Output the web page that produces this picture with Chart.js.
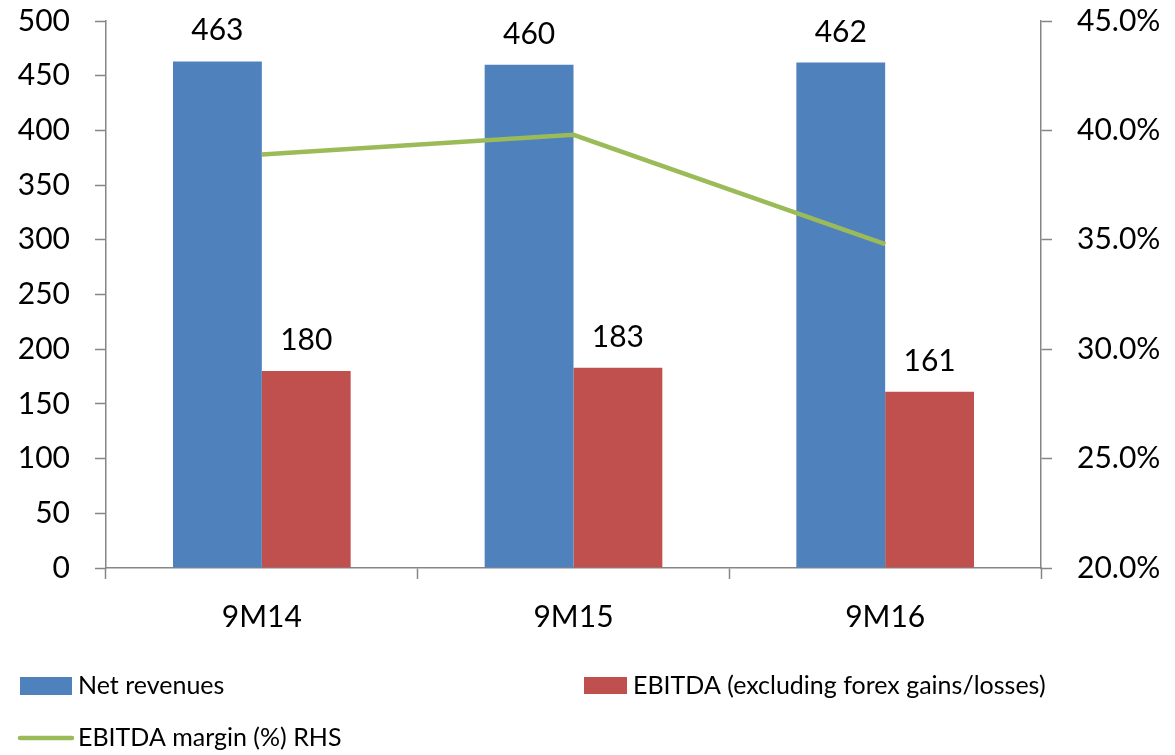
<!DOCTYPE html>
<html>
<head>
<meta charset="utf-8">
<script src="https://cdn.jsdelivr.net/npm/chart.js@4.4.1/dist/chart.umd.min.js"></script>
<style>
  html, body { margin: 0; padding: 0; background: #ffffff; }
  #wrap { width: 1175px; height: 755px; }
</style>
</head>
<body>
<div id="wrap"><canvas id="c" width="1175" height="755"></canvas></div>
<script>
// Values
const categories = ['9M14', '9M15', '9M16'];
const netRevenues = [463, 460, 462];
const ebitda = [180, 183, 161];
const ebitdaMargin = [38.9, 39.8, 34.8];
const seriesNames = ['Net revenues', 'EBITDA (excluding forex gains/losses)', 'EBITDA margin (%) RHS'];

const FONT = 'Lato, "Open Sans", sans-serif';
const AXIS_GRAY = '#868686';
const BLUE = '#4F81BD';
const RED = '#C0504D';
const GREEN = '#9BBB59';

// Value labels above each bar
const barLabels = {
  id: 'barLabels',
  afterDatasetsDraw(chart) {
    const ctx = chart.ctx;
    ctx.save();
    ctx.font = '30px ' + FONT;
    ctx.fillStyle = '#000';
    ctx.textAlign = 'center';
    ctx.textBaseline = 'alphabetic';
    chart.data.datasets.forEach((ds, i) => {
      if (ds.type !== 'bar') return;
      chart.getDatasetMeta(i).data.forEach((el, j) => {
        ctx.fillText(String(ds.data[j]), el.x, el.y - 21);
      });
    });
    ctx.restore();
  }
};

// Legend laid out in two rows beneath the axis
const customLegend = {
  id: 'customLegend',
  afterDraw(chart) {
    const ctx = chart.ctx;
    const ds = chart.data.datasets;
    const byLabel = l => ds.find(d => d.label === l);
    ctx.save();
    ctx.font = '25px ' + FONT;
    ctx.fillStyle = '#000';
    ctx.textBaseline = 'middle';
    ctx.textAlign = 'left';

    const a = byLabel(seriesNames[0]);
    ctx.fillStyle = a.backgroundColor;
    ctx.fillRect(20, 677, 52, 18);
    ctx.fillStyle = '#000';
    ctx.fillText(a.label, 78, 686);

    const b = byLabel(seriesNames[1]);
    ctx.fillStyle = b.backgroundColor;
    ctx.fillRect(584, 677, 43, 17);
    ctx.fillStyle = '#000';
    ctx.fillText(b.label, 633, 686);

    const c = byLabel(seriesNames[2]);
    ctx.strokeStyle = c.borderColor;
    ctx.lineWidth = 4.5;
    ctx.lineCap = 'round';
    ctx.beginPath();
    ctx.moveTo(20, 738);
    ctx.lineTo(72, 738);
    ctx.stroke();
    ctx.fillStyle = '#000';
    ctx.fillText(c.label, 78, 738);
    ctx.restore();
  }
};

const tickFont = { family: FONT, size: 30 };

// Fixed axis sizes; label overflow is drawn into the margins instead of shrinking the plot
const fitVertical = w => scale => {
  scale.width = w;
  scale.paddingTop = 0;
  scale.paddingBottom = 0;
};

new Chart(document.getElementById('c'), {
  data: {
    labels: categories,
    datasets: [
      {
        type: 'line',
        label: seriesNames[2],
        data: ebitdaMargin,
        yAxisID: 'y1',
        borderColor: GREEN,
        backgroundColor: GREEN,
        borderWidth: 4.5,
        pointRadius: 0,
        tension: 0,
        order: 0
      },
      {
        type: 'bar',
        label: seriesNames[0],
        data: netRevenues,
        yAxisID: 'y',
        backgroundColor: BLUE,
        categoryPercentage: 0.57,
        barPercentage: 1.0,
        order: 1
      },
      {
        type: 'bar',
        label: seriesNames[1],
        data: ebitda,
        yAxisID: 'y',
        backgroundColor: RED,
        categoryPercentage: 0.57,
        barPercentage: 1.0,
        order: 1
      }
    ]
  },
  options: {
    responsive: false,
    animation: false,
    devicePixelRatio: 1,
    layout: { padding: { top: 21, left: 0, right: 0, bottom: 0 } },
    plugins: {
      legend: { display: false },
      tooltip: { enabled: false }
    },
    scales: {
      x: {
        offset: true,
        grid: {
          display: true,
          offset: true,
          drawOnChartArea: false,
          drawTicks: true,
          tickLength: 11,
          tickColor: AXIS_GRAY,
          tickWidth: 1.5
        },
        border: { color: AXIS_GRAY, width: 1.5 },
        ticks: { font: tickFont, color: '#000', padding: 20, maxRotation: 0 },
        afterFit(scale) {
          scale.height = 187;
          scale.paddingLeft = 0;
          scale.paddingRight = 0;
        }
      },
      y: {
        position: 'left',
        min: 0,
        max: 500,
        ticks: { stepSize: 50, font: tickFont, color: '#000', padding: 25 },
        grid: {
          drawOnChartArea: false,
          drawTicks: true,
          tickLength: 11,
          tickColor: AXIS_GRAY,
          tickWidth: 1.5
        },
        border: { color: AXIS_GRAY, width: 1.5 },
        afterFit: fitVertical(106)
      },
      y1: {
        position: 'right',
        min: 20,
        max: 45,
        ticks: {
          stepSize: 5,
          font: tickFont,
          color: '#000',
          padding: 25,
          callback: v => v.toFixed(1) + '%'
        },
        grid: {
          drawOnChartArea: false,
          drawTicks: true,
          tickLength: 11,
          tickColor: AXIS_GRAY,
          tickWidth: 1.5
        },
        border: { color: AXIS_GRAY, width: 1.5 },
        afterFit: fitVertical(134)
      }
    }
  },
  plugins: [barLabels, customLegend]
});
</script>
</body>
</html>
